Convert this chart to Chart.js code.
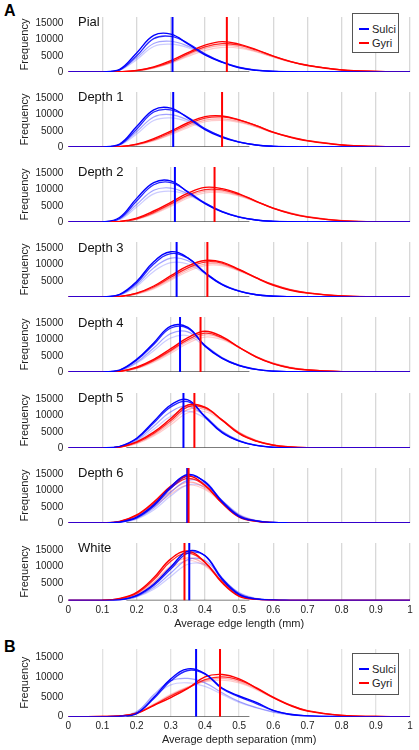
<!DOCTYPE html>
<html>
<head>
<meta charset="utf-8">
<script src="https://cdn.jsdelivr.net/npm/chart.js"></script>
<style>
  body { margin: 0; background: #fff; width: 419px; height: 750px; position: relative; overflow: hidden;
         font-family: 'Liberation Sans', Arial, Helvetica, sans-serif; color: #222; }
  canvas { position: absolute; left: 0; }
  .letter { position: absolute; left: 4px; font-size: 16px; line-height: 16px; font-weight: bold; color: #000; }
  .pname { position: absolute; left: 78px; font-size: 13px; line-height: 13px; color: #111; }
  .legend { position: absolute; left: 352px; width: 47px; border: 1px solid #555; background: #fff; box-sizing: border-box; }
  .legend .item { position: absolute; left: 6px; font-size: 11px; line-height: 12px; white-space: nowrap; }
  .legend .swatch { display: inline-block; width: 10px; height: 2px; margin-right: 3px; vertical-align: middle; position: relative; top: -1px; }
</style>
</head>
<body>
<div class="letter" style="top:3px">A</div>
<div class="letter" style="top:639px">B</div>

<script>
// bin centres (mm) shared by every histogram
const bins = [0, 0.1, 0.15, 0.2, 0.25, 0.3, 0.35, 0.4, 0.45, 0.5, 0.55, 0.6, 0.65, 0.7, 0.8, 0.9, 1];

const panelNames = ['Pial', 'Depth 1', 'Depth 2', 'Depth 3', 'Depth 4', 'Depth 5', 'Depth 6', 'White'];
const seriesNames = ['Sulci', 'Gyri'];
const yTicks = [0, 5000, 10000, 15000];
const xTicks = [0, 0.1, 0.2, 0.3, 0.4, 0.5, 0.6, 0.7, 0.8, 0.9, 1];
const zeroLabel = [true, true, true, false, true, true, true, true, true];

// medians (vertical lines), A panels then B
const sulciMedian = [0.305, 0.307, 0.312, 0.317, 0.327, 0.337, 0.348, 0.354, 0.374];
const gyriMedian  = [0.464, 0.450, 0.428, 0.407, 0.387, 0.369, 0.352, 0.340, 0.444];
const baseline = [0.17, 0.53];

// histograms: 4 subjects per group, frequencies at each bin
const pialSulci = [
  [0, 50, 800, 5900, 11300, 11700, 8700, 5300, 3000, 1300, 500, 200, 80, 30, 0, 0, 0],
  [0, 40, 600, 5000, 10300, 11000, 8900, 5600, 3100, 1400, 550, 200, 80, 30, 0, 0, 0],
  [0, 40, 600, 4400, 8800, 9500, 8000, 5400, 3100, 1500, 600, 250, 100, 40, 0, 0, 0],
  [0, 30, 500, 3800, 7900, 8600, 7500, 5200, 3100, 1500, 650, 250, 100, 40, 0, 0, 0]];
const pialGyri = [
  [0, 0, 80, 500, 1600, 3500, 6000, 8300, 9400, 8600, 6900, 4900, 3200, 2000, 600, 150, 30],
  [0, 0, 60, 400, 1400, 3100, 5600, 7800, 8800, 8300, 6800, 4900, 3300, 2100, 650, 170, 40],
  [0, 0, 60, 400, 1300, 2900, 5200, 7300, 8200, 7800, 6400, 4700, 3200, 2100, 700, 180, 40],
  [0, 0, 50, 350, 1200, 2700, 4800, 6700, 7600, 7400, 6200, 4600, 3100, 2000, 700, 200, 50]];

const depth1Sulci = [
  [0, 50, 900, 6300, 11500, 12000, 9000, 5400, 3000, 1500, 600, 200, 80, 30, 0, 0, 0],
  [0, 40, 700, 5500, 10800, 11500, 9200, 5700, 3200, 1500, 600, 200, 80, 30, 0, 0, 0],
  [0, 40, 600, 4700, 9300, 10000, 8300, 5600, 3200, 1600, 650, 250, 100, 40, 0, 0, 0],
  [0, 30, 500, 4000, 8200, 9000, 7800, 5400, 3200, 1600, 700, 280, 100, 40, 0, 0, 0]];
const depth1Gyri = [
  [0, 0, 120, 900, 2600, 4900, 7500, 9400, 9600, 8400, 6600, 4500, 3000, 1900, 600, 150, 30],
  [0, 0, 100, 800, 2300, 4500, 7000, 8900, 9300, 8300, 6600, 4600, 3100, 2000, 650, 170, 40],
  [0, 0, 90, 700, 2100, 4100, 6500, 8300, 8700, 7900, 6300, 4500, 3000, 2000, 700, 180, 40],
  [0, 0, 80, 600, 1900, 3800, 6000, 7800, 8200, 7600, 6200, 4400, 3000, 2000, 700, 200, 50]];

const depth2Sulci = [
  [0, 60, 1400, 7300, 12200, 12700, 9200, 5700, 3100, 1500, 600, 200, 60, 20, 0, 0, 0],
  [0, 50, 1100, 6500, 11500, 12200, 9400, 5900, 3200, 1500, 600, 200, 60, 20, 0, 0, 0],
  [0, 40, 900, 5400, 9800, 10500, 8700, 5800, 3300, 1600, 650, 250, 80, 30, 0, 0, 0],
  [0, 30, 700, 4600, 8700, 9500, 8300, 5700, 3300, 1700, 700, 280, 100, 40, 0, 0, 0]];
const depth2Gyri = [
  [0, 0, 150, 1200, 3400, 6100, 8900, 10700, 10300, 8700, 6400, 4200, 2600, 1500, 350, 80, 20],
  [0, 0, 120, 1000, 3000, 5600, 8300, 10000, 9900, 8500, 6400, 4300, 2700, 1600, 400, 90, 20],
  [0, 0, 100, 900, 2700, 5200, 7900, 9500, 9500, 8200, 6300, 4300, 2800, 1700, 450, 100, 20],
  [0, 0, 90, 800, 2500, 4800, 7400, 9000, 9100, 8000, 6200, 4300, 2800, 1700, 500, 110, 30]];

const depth3Sulci = [
  [0, 30, 800, 4800, 10900, 14000, 12100, 7400, 3800, 1800, 700, 250, 80, 20, 0, 0, 0],
  [0, 30, 700, 4300, 10200, 13400, 12000, 7600, 3900, 1800, 700, 250, 80, 20, 0, 0, 0],
  [0, 30, 600, 3800, 9000, 12000, 11200, 7500, 4000, 1900, 750, 280, 90, 30, 0, 0, 0],
  [0, 20, 500, 3300, 7900, 10600, 10200, 7200, 4000, 1900, 800, 300, 100, 30, 0, 0, 0]];
const depth3Gyri = [
  [0, 0, 150, 1200, 3400, 6600, 9600, 11300, 10800, 8500, 5900, 3600, 2100, 1200, 300, 50, 0],
  [0, 0, 130, 1100, 3100, 6100, 9000, 10800, 10500, 8400, 6000, 3800, 2200, 1300, 320, 60, 0],
  [0, 0, 110, 950, 2800, 5600, 8400, 10200, 10100, 8200, 5900, 3800, 2300, 1300, 350, 70, 10],
  [0, 0, 100, 850, 2500, 5200, 7900, 9700, 9700, 8000, 5900, 3900, 2400, 1400, 380, 80, 10]];

const depth4Sulci = [
  [0, 30, 600, 3900, 9000, 14200, 13800, 8000, 4200, 2000, 800, 250, 70, 20, 0, 0, 0],
  [0, 30, 550, 3600, 8500, 13600, 13500, 8200, 4300, 2000, 800, 250, 70, 20, 0, 0, 0],
  [0, 20, 450, 3000, 7400, 11900, 12400, 8300, 4500, 2100, 850, 280, 80, 20, 0, 0, 0],
  [0, 20, 400, 2700, 6600, 10500, 11200, 8000, 4500, 2200, 900, 300, 90, 30, 0, 0, 0]];
const depth4Gyri = [
  [0, 0, 200, 1500, 3900, 7200, 10600, 12600, 10900, 7600, 4600, 2500, 1250, 600, 100, 20, 0],
  [0, 0, 180, 1300, 3600, 6700, 10000, 12000, 10600, 7600, 4700, 2600, 1300, 650, 120, 20, 0],
  [0, 0, 150, 1200, 3300, 6300, 9500, 11500, 10400, 7600, 4800, 2700, 1400, 700, 130, 20, 0],
  [0, 0, 130, 1000, 3000, 5800, 8900, 10800, 10000, 7500, 4800, 2800, 1500, 750, 150, 30, 0]];

const depth5Sulci = [
  [0, 30, 500, 3000, 8200, 13300, 14900, 9600, 4700, 2100, 800, 200, 50, 10, 0, 0, 0],
  [0, 30, 450, 2800, 7700, 12700, 14300, 9800, 4900, 2200, 800, 220, 50, 10, 0, 0, 0],
  [0, 20, 400, 2400, 6700, 11200, 12900, 9800, 5200, 2300, 850, 250, 60, 10, 0, 0, 0],
  [0, 20, 350, 2100, 5800, 9800, 11400, 9200, 5200, 2400, 900, 280, 70, 20, 0, 0, 0]];
const depth5Gyri = [
  [0, 0, 300, 1900, 4900, 9100, 13300, 12600, 8600, 4400, 2100, 850, 300, 100, 20, 0, 0],
  [0, 0, 250, 1700, 4500, 8500, 12700, 12400, 8700, 4600, 2200, 900, 330, 110, 20, 0, 0],
  [0, 0, 220, 1500, 4100, 7900, 11900, 11900, 8700, 4800, 2300, 950, 350, 120, 20, 0, 0],
  [0, 0, 200, 1300, 3700, 7200, 10900, 11200, 8500, 4900, 2400, 1000, 380, 130, 20, 0, 0]];

const depth6Sulci = [
  [0, 20, 300, 1800, 5600, 11200, 15000, 12600, 6500, 2000, 600, 150, 40, 0, 0, 0, 0],
  [0, 20, 280, 1600, 5200, 10700, 14600, 12800, 6800, 2200, 650, 150, 40, 0, 0, 0, 0],
  [0, 20, 250, 1400, 4600, 9500, 13200, 12200, 7000, 2500, 700, 180, 50, 0, 0, 0, 0],
  [0, 10, 200, 1200, 4000, 8400, 11800, 11200, 6900, 2700, 800, 200, 50, 10, 0, 0, 0]];
const depth6Gyri = [
  [0, 50, 500, 2500, 6500, 11400, 14500, 11700, 6100, 1800, 500, 100, 20, 0, 0, 0, 0],
  [0, 40, 450, 2300, 6100, 10800, 13800, 11500, 6300, 2000, 550, 120, 30, 0, 0, 0, 0],
  [0, 30, 400, 2000, 5500, 9800, 12600, 10900, 6400, 2300, 650, 150, 30, 0, 0, 0, 0],
  [0, 30, 350, 1800, 5000, 9000, 11700, 10400, 6300, 2400, 700, 170, 40, 0, 0, 0, 0]];

const whiteSulci = [
  [0, 10, 200, 1500, 4800, 9900, 14600, 13200, 6200, 1700, 400, 100, 20, 0, 0, 0, 0],
  [0, 10, 180, 1300, 4400, 9300, 14000, 13300, 6600, 1900, 450, 100, 20, 0, 0, 0, 0],
  [0, 10, 150, 1100, 3800, 8100, 12100, 11800, 6600, 2200, 500, 120, 30, 0, 0, 0, 0],
  [0, 10, 130, 1000, 3300, 7100, 10700, 10600, 6300, 2300, 600, 140, 30, 0, 0, 0, 0]];
const whiteGyri = [
  [0, 50, 600, 2400, 6700, 12300, 14600, 11300, 5200, 1200, 300, 50, 0, 0, 0, 0, 0],
  [0, 40, 500, 2100, 6100, 11600, 14000, 11300, 5500, 1400, 350, 60, 0, 0, 0, 0, 0],
  [0, 30, 400, 1800, 5300, 10200, 12600, 10600, 5600, 1700, 400, 80, 10, 0, 0, 0, 0],
  [0, 30, 350, 1600, 4800, 9400, 11800, 10200, 5700, 1900, 450, 100, 10, 0, 0, 0, 0]];

// B: average depth separation
const separationSulci = [
  [0, 20, 100, 800, 4800, 9500, 12000, 10800, 7200, 5200, 3600, 1600, 600, 200, 20, 0, 0],
  [0, 20, 100, 900, 4500, 9000, 11600, 10700, 7000, 5000, 3300, 1500, 550, 200, 20, 0, 0],
  [0, 20, 150, 1200, 5500, 9000, 9600, 8500, 6000, 3800, 2300, 1200, 500, 200, 20, 0, 0],
  [0, 20, 150, 1300, 5000, 8000, 8500, 7600, 5600, 3600, 2200, 1100, 450, 180, 20, 0, 0]];
const separationGyri = [
  [0, 50, 200, 800, 2800, 4800, 7100, 10000, 10600, 9500, 7200, 4800, 2800, 1400, 300, 50, 0],
  [0, 50, 200, 900, 2900, 5200, 7200, 9300, 10000, 9200, 7300, 4900, 2900, 1500, 320, 60, 0],
  [0, 40, 200, 900, 3000, 5400, 7400, 9000, 9600, 8800, 7000, 4800, 2900, 1500, 330, 60, 0],
  [0, 40, 200, 1000, 3200, 5600, 7500, 8800, 9200, 8500, 6800, 4700, 2900, 1500, 350, 60, 0]];

const sulciSets = [pialSulci, depth1Sulci, depth2Sulci, depth3Sulci, depth4Sulci, depth5Sulci, depth6Sulci, whiteSulci, separationSulci];
const gyriSets = [pialGyri, depth1Gyri, depth2Gyri, depth3Gyri, depth4Gyri, depth5Gyri, depth6Gyri, whiteGyri, separationGyri];

const sulciColours = ['rgb(0,0,255)', 'rgba(0,0,255,0.85)', 'rgba(70,70,255,0.5)', 'rgba(120,120,255,0.38)'];
const gyriColours = ['rgb(255,0,0)', 'rgba(255,0,0,0.85)', 'rgba(255,70,70,0.45)', 'rgba(255,120,120,0.38)'];
const lineWidths = [1.4, 1.3, 1.2, 1.2];

Chart.defaults.font.family = "'Liberation Sans', Arial, Helvetica, sans-serif";
Chart.defaults.color = '#222';

const YMAX = 17000;

function curve(ys, colour, w) {
  return {
    data: ys.map((y, k) => ({ x: bins[k], y: y })),
    borderColor: colour, borderWidth: w, pointRadius: 0,
    tension: 0.4, fill: false
  };
}

function vline(x, colour) {
  return { data: [{ x: x, y: 0 }, { x: x, y: YMAX }], borderColor: colour, borderWidth: 2, pointRadius: 0 };
}

function makePanel(i, plotTop, plotH, withX, xTitle) {
  const padTop = 8;
  const xH = withX ? 30 : 8;
  const cv = document.createElement('canvas');
  cv.width = 419;
  cv.height = Math.ceil(padTop + plotH + xH);
  cv.style.top = (plotTop - padTop) + 'px';
  document.body.appendChild(cv);

  const s = sulciSets[i], g = gyriSets[i];
  const datasets = [vline(gyriMedian[i], 'rgb(255,0,0)'), vline(sulciMedian[i], 'rgb(0,0,255)')];
  for (let k = 0; k < 4; k++) {
    datasets.push(curve(s[k], sulciColours[k], lineWidths[k]));
    datasets.push(curve(g[k], gyriColours[k], lineWidths[k]));
  }
  datasets.push({ data: [{ x: baseline[0], y: 0 }, { x: baseline[1], y: 0 }], borderColor: 'rgb(80,80,80)', borderWidth: 1.5, pointRadius: 0 });

  new Chart(cv, {
    type: 'line',
    data: { datasets: datasets },
    options: {
      responsive: false, animation: false, events: [],
      layout: { padding: { top: padTop, right: 9, left: 0, bottom: cv.height - padTop - plotH - xH } },
      plugins: { legend: { display: false }, tooltip: { enabled: false } },
      scales: {
        x: {
          type: 'linear', min: 0, max: 1,
          afterBuildTicks: sc => { sc.ticks = xTicks.map(v => ({ value: v })); },
          afterFit: sc => { sc.height = xH; },
          grid: { color: c => c.tick && c.tick.value === 0 ? 'rgba(0,0,0,0)' : (i === 8 ? '#e2e2e2' : '#d8d8d8'), lineWidth: 1.3, drawTicks: false },
          border: { display: false },
          ticks: { display: withX, padding: 4, font: { size: 10 }, callback: v => String(+v.toFixed(1)) },
          title: { display: withX, text: xTitle, font: { size: 11 }, padding: { top: 0, bottom: 0 } }
        },
        y: {
          min: 0, max: YMAX,
          afterBuildTicks: sc => { sc.ticks = yTicks.map(v => ({ value: v })); },
          afterFit: sc => { sc.width = 68.3; },
          grid: { display: false, drawTicks: false },
          border: { display: false },
          ticks: { padding: 5, font: { size: 10 }, callback: v => (v === 0 && !zeroLabel[i]) ? '' : String(v) },
          title: { display: true, text: 'Frequency', font: { size: 11 }, padding: { top: 18, bottom: 0 } }
        }
      }
    }
  });
}

// panel A: eight stacked histograms
for (let i = 0; i < 8; i++) {
  const bottom = 74 + 75.2 * i;
  makePanel(i, bottom - 60.4, 60.4, i === 7, 'Average edge length (mm)');
  const t = document.createElement('div');
  t.className = 'pname';
  t.style.top = (15 + 75.2 * i) + 'px';
  t.textContent = panelNames[i];
  document.body.appendChild(t);
}
// panel B
makePanel(8, 716.7 - 70.7, 70.7, true, 'Average depth separation (mm)');

function legend(top, gap) {
  const box = document.createElement('div');
  box.className = 'legend';
  box.style.top = top + 'px';
  box.style.height = (gap * 2 + 13) + 'px';
  seriesNames.forEach((name, k) => {
    const it = document.createElement('div');
    it.className = 'item';
    it.style.top = (9 + gap * k) + 'px';
    const sw = document.createElement('span');
    sw.className = 'swatch';
    sw.style.background = k === 0 ? 'rgb(0,0,255)' : 'rgb(255,0,0)';
    it.appendChild(sw);
    it.appendChild(document.createTextNode(name));
    box.appendChild(it);
  });
  document.body.appendChild(box);
}
legend(13, 13.5);
legend(653, 14.4);
</script>
</body>
</html>
